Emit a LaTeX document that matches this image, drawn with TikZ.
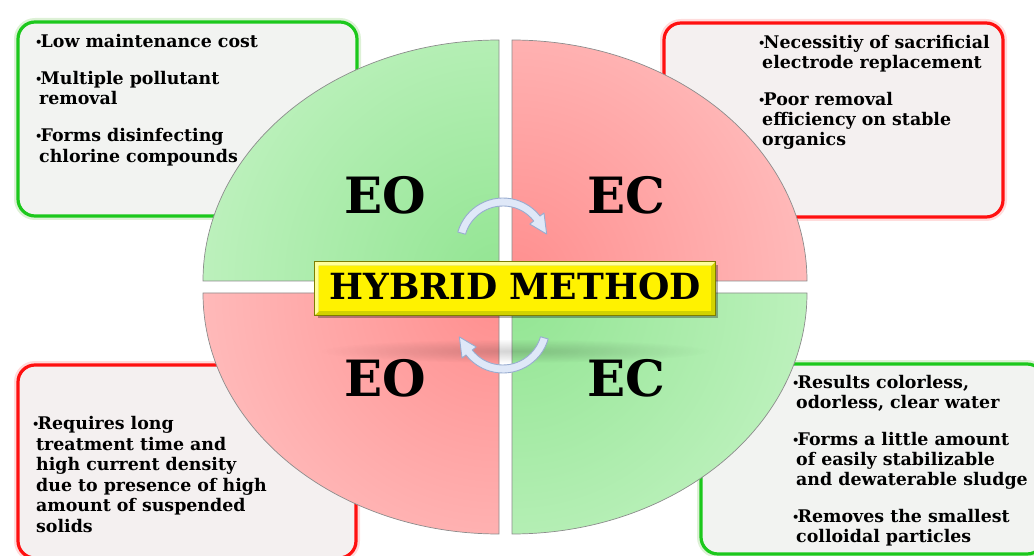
\documentclass[tikz,border=0pt]{standalone}
\usepackage{fontspec}
\setmainfont{DejaVu Serif}
\usetikzlibrary{fadings}
\tikzfading[name=softout, inner color=transparent!0, outer color=transparent!100]
\definecolor{gbord}{HTML}{1CC81C}
\definecolor{rbord}{HTML}{FF1010}
\definecolor{gglow}{HTML}{9ED88A}
\definecolor{rglow}{HTML}{FF9A9A}
\definecolor{gfill}{HTML}{F2F3F1}
\definecolor{rfill}{HTML}{F4F0F0}
\definecolor{gin}{HTML}{92E592}
\definecolor{gout}{HTML}{D6F8D6}
\definecolor{rin}{HTML}{FF8E8E}
\definecolor{rout}{HTML}{FFD4D4}
\definecolor{qline}{HTML}{8C8C8C}
\definecolor{arrfill}{HTML}{DFE8F8}
\definecolor{arrline}{HTML}{98ACD0}
\definecolor{ybord}{HTML}{7E7E00}
\definecolor{ydark}{HTML}{D2D200}
\definecolor{ylight}{HTML}{FFFF9A}
\newcommand\bul{\makebox[5.5pt][l]{\raisebox{1.2pt}{\fontsize{11.5}{11.5}\selectfont •}}}
\newcommand\cont{\hspace*{4pt}}
\begin{document}
\begin{tikzpicture}[x=1pt,y=1pt,
  infobox/.style={rounded corners=17pt, line width=3.2pt, inner sep=0pt},
  glowbox/.style={rounded corners=17pt, line width=8pt, opacity=0.35},
  bodytxt/.style={font=\fontsize{17.4}{20.5}\selectfont\bfseries, align=left, anchor=north west, inner sep=0pt},
  biglabel/.style={font=\fontsize{50}{50}\selectfont\bfseries, inner sep=0pt},
  quad/.style={draw=qline, line width=0.7pt},
  arr/.style={fill=arrfill, draw=arrline, line width=0.9pt, line join=round}]
\useasboundingbox (0,0) rectangle (1034,-556);
\clip (0,0) rectangle (1034,-556);

% ---------- info boxes ----------
\draw[glowbox, gglow] (18,-22) rectangle (357,-216);
\node[infobox, draw=gbord, fill=gfill, minimum width=339pt, minimum height=194pt] (b1) at (187.5,-119) {};
\draw[glowbox, rglow] (664,-23) rectangle (1003,-217);
\node[infobox, draw=rbord, fill=rfill, minimum width=339pt, minimum height=194pt] (b2) at (833.5,-120) {};
\draw[glowbox, rglow] (18,-365) rectangle (356,-558);
\node[infobox, draw=rbord, fill=rfill, minimum width=338pt, minimum height=193pt] (b3) at (187,-461.5) {};
\draw[glowbox, gglow] (701,-364) rectangle (1044,-554);
\node[infobox, draw=gbord, fill=gfill, minimum width=343pt, minimum height=190pt] (b4) at (872.5,-459) {};

% ---------- texts ----------
\node[bodytxt] (t1) at (35,-34) {\bul Low maintenance cost\\[16.5pt]
\bul Multiple pollutant\\ \cont removal\\[16.5pt]
\bul Forms disinfecting\\ \cont chlorine compounds};
\node[bodytxt, font=\fontsize{17.4}{20}\selectfont\bfseries] (t2) at (758,-35) {\bul Necessitiy of sacrificial\\ \cont electrode replacement\\[17pt]
\bul Poor removal\\ \cont efficiency on stable\\ \cont organics};
\node[bodytxt, font=\fontsize{17.4}{20.6}\selectfont\bfseries] (t3) at (32,-416) {\bul Requires long\\ \cont treatment time and\\ \cont high current density\\ \cont due to presence of high\\ \cont amount of suspended\\ \cont solids};
\node[bodytxt, font=\fontsize{17.4}{20}\selectfont\bfseries] (t4) at (792,-375) {\bul Results colorless,\\ \cont odorless, clear water\\[17.5pt]
\bul Forms a little amount\\ \cont of easily stabilizable\\ \cont and dewaterable sludge\\[17pt]
\bul Removes the smallest\\ \cont colloidal particles};

% ---------- quadrants ----------
\begin{scope}
\clip (499,-281) -- (203,-281) arc[start angle=180,end angle=90,x radius=296,y radius=241] -- cycle;
\shade[inner color=gin, outer color=gout] (499,-281) circle (480);
\end{scope}
\draw[quad] (499,-281) -- (203,-281) arc[start angle=180,end angle=90,x radius=296,y radius=241] -- cycle;

\begin{scope}
\clip (512,-281) -- (512,-40) arc[start angle=90,end angle=0,x radius=295,y radius=241] -- cycle;
\shade[inner color=rin, outer color=rout] (512,-281) circle (480);
\end{scope}
\draw[quad] (512,-281) -- (512,-40) arc[start angle=90,end angle=0,x radius=295,y radius=241] -- cycle;

\begin{scope}
\clip (499,-293) -- (203,-293) arc[start angle=180,end angle=270,x radius=296,y radius=241] -- cycle;
\shade[inner color=rin, outer color=rout] (499,-293) circle (480);
\end{scope}
\draw[quad] (499,-293) -- (203,-293) arc[start angle=180,end angle=270,x radius=296,y radius=241] -- cycle;

\begin{scope}
\clip (512,-293) -- (807,-293) arc[start angle=0,end angle=-90,x radius=295,y radius=241] -- cycle;
\shade[inner color=gin, outer color=gout] (512,-293) circle (480);
\end{scope}
\draw[quad] (512,-293) -- (807,-293) arc[start angle=0,end angle=-90,x radius=295,y radius=241] -- cycle;

% shadow band below the title
\fill[black, opacity=0.17, path fading=softout] (515,-351) ellipse [x radius=195, y radius=12];

% ---------- labels ----------
\node[biglabel] (eo1) at (385,-195) {EO};
\node[biglabel] (ec1) at (626,-195) {EC};
\node[biglabel] (eo2) at (385,-378) {EO};
\node[biglabel] (ec2) at (626,-378) {EC};

% ---------- curved arrows ----------
\coordinate (ta) at (503,-245);
\coordinate (ba) at (503,-326);
\draw[arr] ([shift={(164:47)}]ta) arc[start angle=164,end angle=38,radius=47]
  -- ([shift={(38:52)}]ta) -- ([shift={(14:45)}]ta) -- ([shift={(38:34)}]ta)
  -- ([shift={(38:39)}]ta) arc[start angle=38,end angle=164,radius=39] -- cycle;
\draw[arr] ([shift={(-16:47)}]ba) arc[start angle=-16,end angle=-142,radius=47]
  -- ([shift={(-142:52)}]ba) -- ([shift={(-166:45)}]ba) -- ([shift={(-142:34)}]ba)
  -- ([shift={(-142:39)}]ba) arc[start angle=-142,end angle=-16,radius=39] -- cycle;

% ---------- title ----------
\fill[black, opacity=0.3] (318,-265) rectangle (718,-318);
\node[fill=ydark, draw=ybord, line width=0.8pt, minimum width=400pt, minimum height=53pt, inner sep=0pt] (hm) at (515,-288.5) {};
\fill[ylight] (hm.north west) -- (hm.north east) -- ([shift={(-4,-4)}]hm.north east) -- ([shift={(4,-4)}]hm.north west) -- ([shift={(4,4)}]hm.south west) -- (hm.south west) -- cycle;
\fill[yellow] ([shift={(4,-4)}]hm.north west) rectangle ([shift={(-4,4)}]hm.south east);
\draw[ybord, line width=0.8pt] (hm.north west) rectangle (hm.south east);
\node[font=\fontsize{36}{36}\selectfont\bfseries, inner sep=0pt] (hmt) at (515,-286.5) {HYBRID METHOD};
\end{tikzpicture}
\end{document}
